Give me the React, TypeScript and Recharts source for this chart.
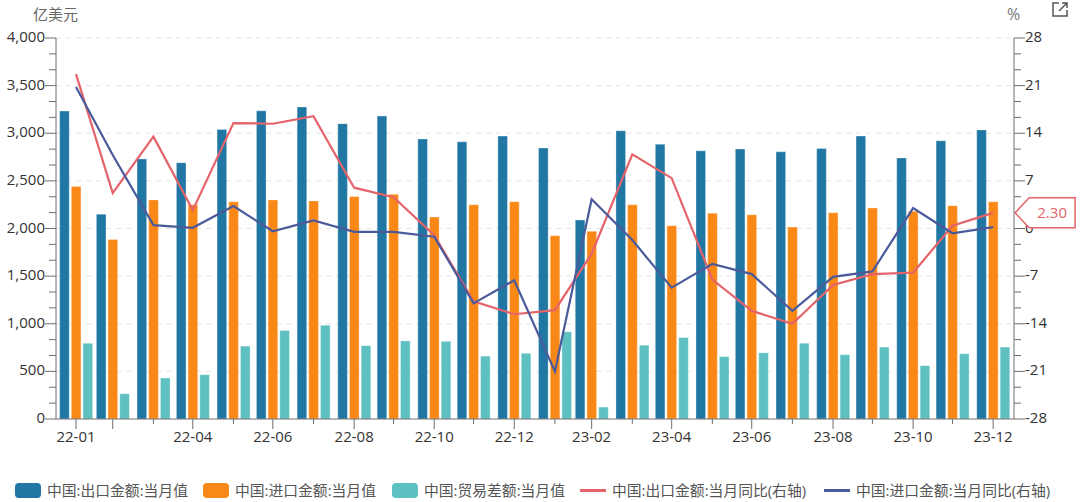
import { Bar, CartesianGrid, ComposedChart, Legend, Line, XAxis, YAxis } from 'recharts';

// days since the first month end, the x axis is a time axis
const days = [0, 28, 59, 89, 120, 150, 181, 212, 242, 273, 303, 334, 365, 393, 424, 454, 485, 515, 546, 577, 607, 638, 668, 699];
const exportValue = [3233, 2150, 2730, 2690, 3040, 3235, 3275, 3100, 3180, 2940, 2910, 2970, 2845, 2090, 3025, 2885, 2815, 2835, 2805, 2840, 2970, 2740, 2920, 3035];
const importValue = [2440, 1885, 2300, 2250, 2280, 2300, 2290, 2335, 2360, 2120, 2250, 2280, 1925, 1970, 2250, 2030, 2160, 2145, 2015, 2165, 2215, 2180, 2240, 2280];
const balanceValue = [795, 265, 430, 465, 765, 930, 985, 770, 820, 815, 660, 690, 915, 125, 775, 855, 655, 695, 795, 675, 755, 560, 685, 755];
const exportYoY = [22.7, 5.2, 13.5, 2.7, 15.5, 15.4, 16.5, 6, 4.6, -1, -10.7, -12.6, -12, -3.7, 10.9, 7.4, -7.5, -12.1, -14, -8.3, -6.7, -6.5, 0.4, 2.3];
const importYoY = [20.8, 10.8, 0.5, 0.1, 3.3, -0.4, 1.2, -0.5, -0.5, -1.2, -11, -7.6, -21, 4.3, -1.7, -8.7, -5.2, -6.7, -12.1, -7.1, -6.3, 3, -0.7, 0.2];

const xLabels = ['22-01', '', '', '22-04', '', '22-06', '', '22-08', '', '22-10', '', '22-12', '', '23-02', '', '23-04', '', '23-06', '', '23-08', '', '23-10', '', '23-12'];

const leftTicks = [0, 166.67, 333.33, 500, 666.67, 833.33, 1000, 1166.67, 1333.33, 1500, 1666.67, 1833.33, 2000, 2166.67, 2333.33, 2500, 2666.67, 2833.33, 3000, 3166.67, 3333.33, 3500, 3666.67, 3833.33, 4000];
const rightTicks = [-28, -25.67, -23.33, -21, -18.67, -16.33, -14, -11.67, -9.33, -7, -4.67, -2.33, 0, 2.33, 4.67, 7, 9.33, 11.67, 14, 16.33, 18.67, 21, 23.33, 25.67, 28];
const gridValues = [500, 1000, 1500, 2000, 2500, 3000, 3500, 4000];

const tableData = days.map((day, i) => ({
  day,
  exp: exportValue[i],
  imp: importValue[i],
  bal: balanceValue[i],
  expYoY: exportYoY[i],
  impYoY: importYoY[i],
}));

const FONT = '"Open Sans", "Noto Sans CJK SC", sans-serif';
const AXIS = '#6e6e6e';
const BLUE = '#2177a3';
const ORANGE = '#fa8816';
const TEAL = '#5fc0c1';
const RED = '#e5636a';
const NAVY = '#4b5a9b';

const legendItems = [
  { name: '中国:出口金额:当月值', color: BLUE, kind: 'bar', x: 15 },
  { name: '中国:进口金额:当月值', color: ORANGE, kind: 'bar', x: 203 },
  { name: '中国:贸易差额:当月值', color: TEAL, kind: 'bar', x: 392 },
  { name: '中国:出口金额:当月同比(右轴)', color: RED, kind: 'line', x: 580 },
  { name: '中国:进口金额:当月同比(右轴)', color: NAVY, kind: 'line', x: 824 },
];

function ChartLegend() {
  return (
    <div style={{ position: 'relative', width: 0, height: 0 }}>
      {legendItems.map((item) => (
        <div key={item.name} style={{ position: 'absolute', left: item.x, top: 480, whiteSpace: 'nowrap', height: 20, font: `14.8px ${FONT}`, color: '#555', lineHeight: '20px' }}>
          <span
            style={{
              position: 'absolute',
              left: 0,
              top: item.kind === 'bar' ? 3 : 9,
              width: 26,
              height: item.kind === 'bar' ? 15 : 3,
              borderRadius: item.kind === 'bar' ? 4 : 0,
              background: item.color,
            }}
          />
          <span style={{ position: 'absolute', left: 32 }}>{item.name}</span>
        </div>
      ))}
    </div>
  );
}

function XTick({ x, y, payload }: any) {
  const i = days.indexOf(payload.value);
  const label = xLabels[i];
  const long = label !== '' || i === 1;
  return (
    <g>
      <line x1={x} x2={x} y1={y} y2={y + (long ? 10 : 5)} stroke={AXIS} />
      <text x={x} y={y + 23} textAnchor="middle" fontSize={15} fontFamily={FONT} fill="#333">
        {label}
      </text>
    </g>
  );
}

function LeftTick({ x, y, payload }: any) {
  const major = gridValues.includes(payload.value) || payload.value === 0;
  return (
    <g>
      <line x1={x} x2={x - (major ? 11 : 7)} y1={y} y2={y} stroke={AXIS} />
      {major && (
        <text x={x - 11} y={y + 4} textAnchor="end" fontSize={15} fontFamily={FONT} fill="#333">
          {payload.value.toLocaleString('en-US')}
        </text>
      )}
    </g>
  );
}

function RightTick({ x, y, payload }: any) {
  const major = payload.value % 7 === 0;
  return (
    <g>
      <line x1={x} x2={x + (major ? 11 : 7)} y1={y} y2={y} stroke={AXIS} />
      {major && (
        <text x={x + 11} y={y + 4} textAnchor="start" fontSize={15} fontFamily={FONT} fill="#333">
          {payload.value}
        </text>
      )}
    </g>
  );
}

// callout for the last point of the export line
function LastPointLabel({ x, y, index, value }: any) {
  if (index !== days.length - 1) return null;
  const tip = x + 22;
  const left = tip + 14;
  const right = tip + 60;
  const path = `M${tip} ${y} L${left} ${y - 15} L${right} ${y - 15} L${right} ${y + 15} L${left} ${y + 15} Z`;
  return (
    <g>
      <path d={path} fill="#fff" stroke={RED} strokeWidth={1.5} />
      <text x={(left + right) / 2} y={y + 5.5} textAnchor="middle" fontSize={15} fontFamily={FONT} fill={RED}>
        {Number(value).toFixed(2)}
      </text>
    </g>
  );
}

export default function App() {
  return (
    <div style={{ position: 'absolute', left: 0, top: 0, width: 1080, height: 502, background: '#fff' }}>
      <ComposedChart width={1080} height={502} data={tableData} margin={{ top: 38, right: 0, bottom: 53, left: 0 }} barSize={9.6} barGap={2.1}>
        <CartesianGrid yAxisId="left" vertical={false} horizontalValues={gridValues} stroke="#e3e3e3" strokeDasharray="5 5" />
        <XAxis
          dataKey="day"
          type="number"
          scale="linear"
          domain={[-15.25, 714.9]}
          ticks={days}
          interval={0}
          tick={<XTick />}
          tickLine={false}
          tickSize={0}
          tickMargin={0}
          height={30}
          stroke={AXIS}
        />
        <YAxis
          yAxisId="left"
          domain={[0, 4000]}
          ticks={leftTicks}
          interval={0}
          tick={<LeftTick />}
          tickLine={false}
          tickSize={0}
          tickMargin={0}
          width={56}
          stroke={AXIS}
        />
        <YAxis
          yAxisId="right"
          orientation="right"
          domain={[-28, 28]}
          ticks={rightTicks}
          interval={0}
          tick={<RightTick />}
          tickLine={false}
          tickSize={0}
          tickMargin={0}
          width={66}
          stroke={AXIS}
        />
        <Legend content={<ChartLegend />} wrapperStyle={{ position: 'absolute', left: 0, top: 0, width: 0, height: 0 }} />
        <Bar yAxisId="left" dataKey="exp" name="中国:出口金额:当月值" fill={BLUE} stroke="#ffffff" strokeOpacity={0.3} isAnimationActive={false} />
        <Bar yAxisId="left" dataKey="imp" name="中国:进口金额:当月值" fill={ORANGE} stroke="#ffffff" strokeOpacity={0.3} isAnimationActive={false} />
        <Bar yAxisId="left" dataKey="bal" name="中国:贸易差额:当月值" fill={TEAL} stroke="#ffffff" strokeOpacity={0.3} isAnimationActive={false} />
        <Line yAxisId="right" dataKey="expYoY" name="中国:出口金额:当月同比(右轴)" stroke={RED} strokeWidth={2.2} dot={false} label={<LastPointLabel />} isAnimationActive={false} />
        <Line yAxisId="right" dataKey="impYoY" name="中国:进口金额:当月同比(右轴)" stroke={NAVY} strokeWidth={2.2} dot={false} isAnimationActive={false} />
        <text x={33} y={20} fontSize={15} fontFamily={FONT} fill="#666">亿美元</text>
        <text x={1007} y={20} fontSize={16} fontFamily={FONT} fill="#777">%</text>
        <g fill="none" stroke="#555" strokeWidth={1.5}>
          <path d="M1059 3 H1053 V16 H1067 V10" />
          <path d="M1062 3 H1067 V8 M1067 3 L1059 11" />
        </g>
      </ComposedChart>
    </div>
  );
}
